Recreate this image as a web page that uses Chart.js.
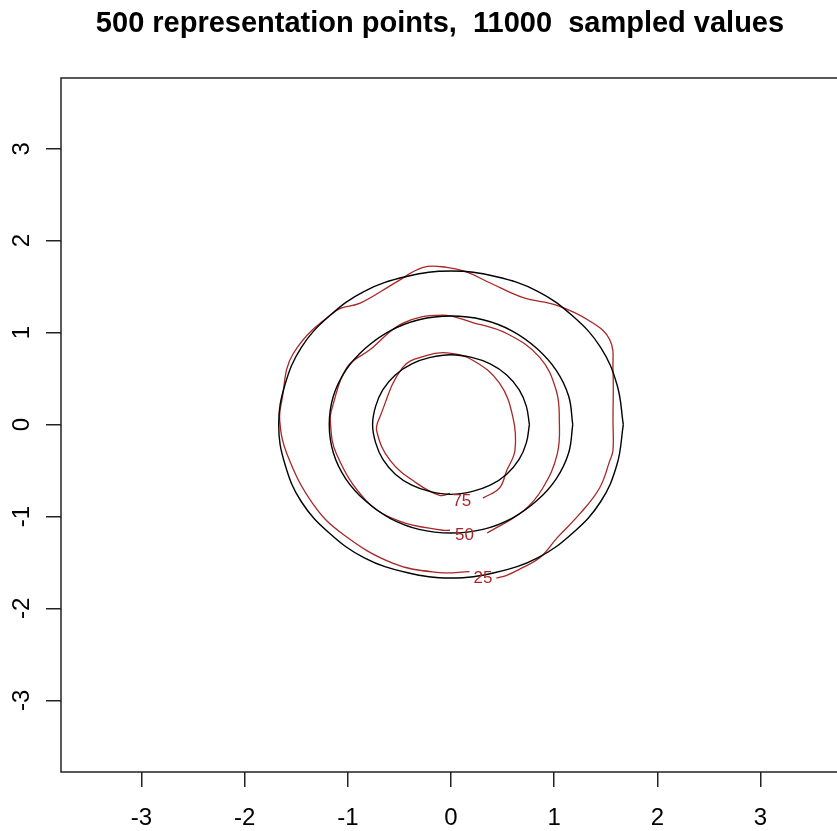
<!DOCTYPE html>
<html>
<head>
<meta charset="utf-8">
<script src="https://cdn.jsdelivr.net/npm/chart.js@4.4.1/dist/chart.umd.min.js"></script>
<style>
  html, body { margin: 0; padding: 0; overflow: hidden; background: #fff; }
  canvas { display: block; }
</style>
</head>
<body>
<canvas id="myChart" width="850" height="831"></canvas>
<script>
// Contour plot: theoretical (black) vs estimated (red) contours

const titleText = '500 representation points,  11000  sampled values'
const tickValues = [-3, -2, -1, 0, 1, 2, 3]

// black theoretical contours
const outerX = [1.67, 1.61, 1.45, 1.18, 0.84, 0.43, 0, -0.43, -0.84, -1.18, -1.45, -1.61, -1.67, -1.61, -1.45, -1.18, -0.84, -0.43, 0, 0.43, 0.84, 1.18, 1.45, 1.61, 1.67]
const outerY = [0, 0.43, 0.84, 1.18, 1.45, 1.61, 1.67, 1.61, 1.45, 1.18, 0.84, 0.43, 0, -0.43, -0.84, -1.18, -1.45, -1.61, -1.67, -1.61, -1.45, -1.18, -0.84, -0.43, 0]
const midX = [1.18, 1.14, 1.02, 0.83, 0.59, 0.31, 0, -0.31, -0.59, -0.83, -1.02, -1.14, -1.18, -1.14, -1.02, -0.83, -0.59, -0.31, 0, 0.31, 0.59, 0.83, 1.02, 1.14, 1.18]
const midY = [0, 0.31, 0.59, 0.83, 1.02, 1.14, 1.18, 1.14, 1.02, 0.83, 0.59, 0.31, 0, -0.31, -0.59, -0.83, -1.02, -1.14, -1.18, -1.14, -1.02, -0.83, -0.59, -0.31, 0]
const innerX = [0.76, 0.73, 0.66, 0.54, 0.38, 0.20, 0, -0.20, -0.38, -0.54, -0.66, -0.73, -0.76, -0.73, -0.66, -0.54, -0.38, -0.20, 0, 0.20, 0.38, 0.54, 0.66, 0.73, 0.76]
const innerY = [0, 0.20, 0.38, 0.54, 0.66, 0.73, 0.76, 0.73, 0.66, 0.54, 0.38, 0.20, 0, -0.20, -0.38, -0.54, -0.66, -0.73, -0.76, -0.73, -0.66, -0.54, -0.38, -0.20, 0]

// red estimated contours (open at the label)
const red25X = [0.44, 0.54, 0.67, 0.86, 1.03, 1.25, 1.44, 1.54, 1.57, 1.57, 1.57, 1.54, 1.34, 1.02, 0.70, 0.38, 0.15, -0.04, -0.27, -0.53, -0.88, -1.11, -1.53, -1.64, -1.66, -1.59, -1.34, -1.05, -0.56, -0.11, 0.18]
const red25Y = [-1.67, -1.64, -1.57, -1.45, -1.23, -0.97, -0.69, -0.39, -0.28, 0.04, 0.59, 0.92, 1.13, 1.30, 1.38, 1.54, 1.66, 1.71, 1.71, 1.55, 1.32, 1.24, 0.77, 0.26, 0.04, -0.32, -0.86, -1.19, -1.51, -1.61, -1.60]
const red50X = [0.35, 0.70, 0.89, 1.03, 1.05, 1.02, 0.86, 0.54, 0.21, -0.09, -0.47, -0.79, -1.01, -1.15, -1.17, -1.11, -0.82, -0.50, -0.08, -0.01]
const red50Y = [-1.18, -0.94, -0.69, -0.32, 0.04, 0.37, 0.73, 0.99, 1.11, 1.19, 1.10, 0.81, 0.62, 0.19, 0.04, -0.32, -0.83, -1.05, -1.15, -1.15]
const red75X = [0.31, 0.47, 0.54, 0.62, 0.60, 0.47, 0.21, -0.04, -0.24, -0.47, -0.69, -0.72, -0.59, -0.33, -0.11, -0.01]
const red75Y = [-0.80, -0.69, -0.50, -0.28, 0.08, 0.45, 0.70, 0.78, 0.75, 0.62, 0.08, -0.07, -0.39, -0.64, -0.77, -0.75]

// contour labels
const labelText = ['75', '50', '25']
const labelX = [0.105, 0.13, 0.31]
const labelY = [-0.84, -1.20, -1.67]

const RED = 'rgb(168, 38, 38)'
const FONT = '"Liberation Sans", Arial, sans-serif'

function toPoints(xs, ys) {
    return xs.map((x, i) => ({x: x, y: ys[i]}))
}

function lineSet(xs, ys, color, width) {
    return {
        data: toPoints(xs, ys),
        showLine: true,
        borderColor: color,
        borderWidth: width,
        pointRadius: 0,
        tension: 0.4,
        fill: false
    }
}

// title, frame and the red level labels
const extras = {
    id: 'extras',
    afterDraw(chart) {
        const ctx = chart.ctx
        const a = chart.chartArea
        ctx.save()
        ctx.strokeStyle = '#222'
        ctx.lineWidth = 1.5
        ctx.strokeRect(a.left, a.top, a.right - a.left, a.bottom - a.top)

        ctx.fillStyle = '#000'
        ctx.font = 'bold 29px ' + FONT
        ctx.textAlign = 'center'
        ctx.textBaseline = 'alphabetic'
        ctx.fillText(titleText, 440, 32)

        ctx.fillStyle = RED
        ctx.font = '17px ' + FONT
        ctx.textBaseline = 'middle'
        labelText.forEach((t, i) => {
            const px = chart.scales.x.getPixelForValue(labelX[i])
            const py = chart.scales.y.getPixelForValue(labelY[i])
            ctx.fillText(t, px, py)
        })
        ctx.restore()
    }
}

const ctx = document.getElementById('myChart')
const myChart = new Chart(ctx, {
    type: 'scatter',
    data: {
        datasets: [
            lineSet(outerX, outerY, '#000', 1.4),
            lineSet(midX, midY, '#000', 1.4),
            lineSet(innerX, innerY, '#000', 1.4),
            lineSet(red25X, red25Y, RED, 1.3),
            lineSet(red50X, red50Y, RED, 1.3),
            lineSet(red75X, red75Y, RED, 1.3)
        ]
    },
    options: {
        responsive: false,
        animation: false,
        devicePixelRatio: 1,
        layout: { padding: { top: 78, right: 9, left: 0, bottom: 0 } },
        plugins: {
            legend: { display: false },
            tooltip: { enabled: false },
            title: { display: false }
        },
        scales: {
            x: {
                type: 'linear',
                position: 'bottom',
                min: -3.78,
                max: 3.78,
                afterBuildTicks: s => { s.ticks = tickValues.map(v => ({value: v})) },
                afterFit: s => { s.height = 59 },
                border: { display: false },
                grid: { drawOnChartArea: false, drawTicks: true, tickLength: 15, color: '#222', lineWidth: 1.5 },
                ticks: {
                    color: '#000',
                    font: { family: FONT, size: 24 },
                    padding: 17,
                    autoSkip: false,
                    maxRotation: 0,
                    callback: v => String(v)
                }
            },
            y: {
                type: 'linear',
                min: -3.78,
                max: 3.77,
                afterBuildTicks: s => { s.ticks = tickValues.map(v => ({value: v})) },
                afterFit: s => { s.width = 61 },
                border: { display: false },
                grid: { drawOnChartArea: false, drawTicks: true, tickLength: 15, color: '#222', lineWidth: 1.5 },
                ticks: {
                    color: '#000',
                    font: { family: FONT, size: 24 },
                    padding: 13,
                    autoSkip: false,
                    minRotation: 90,
                    maxRotation: 90,
                    crossAlign: 'center',
                    callback: v => String(v)
                }
            }
        }
    },
    plugins: [extras]
})
</script>
</body>
</html>
